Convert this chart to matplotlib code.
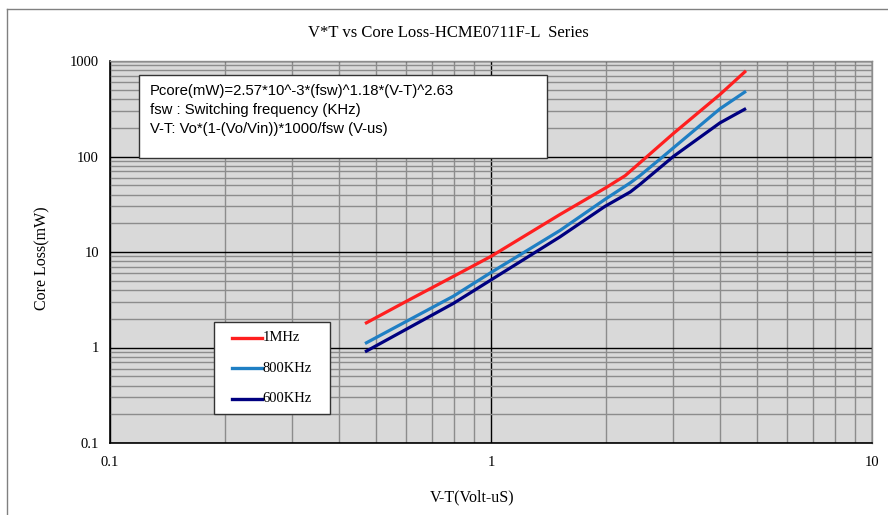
import matplotlib
matplotlib.use("Agg")
import matplotlib.pyplot as plt
from matplotlib.lines import Line2D
from matplotlib.patches import Rectangle

title = "V*T vs Core Loss-HCME0711F-L  Series"
x_label = "V-T(Volt-uS)"
y_label = "Core Loss(mW)"
series_names = ["1MHz", "800KHz", "600KHz"]
series_colors = ["#ff1f1f", "#1f7fc4", "#000080"]

x_1mhz = [0.467, 0.6, 0.8, 1.0, 1.517, 2.0, 2.25, 2.46, 3.01, 3.99, 4.67]
y_1mhz = [1.78, 3.05, 5.6, 9.0, 24.7, 47, 63, 86, 174, 446, 790]

x_800k = [0.467, 0.796, 1.0, 1.517, 1.99, 2.32, 2.46, 2.83, 3.01, 3.99, 4.67]
y_800k = [1.1, 3.44, 6.1, 16.8, 35.5, 53, 63, 100, 123, 316, 483]

x_600k = [0.467, 0.796, 1.0, 1.517, 1.99, 2.32, 2.46, 3.01, 3.99, 4.67]
y_600k = [0.90, 2.89, 5.1, 14.4, 30, 42.5, 51, 100, 225, 318]

x_ticks = [0.1, 1, 10]
x_tick_labels = ["0.1", "1", "10"]
y_ticks = [0.1, 1, 10, 100, 1000]
y_tick_labels = ["0.1", "1", "10", "100", "1000"]

formula_lines = [
    "Pcore(mW)=2.57*10^-3*(fsw)^1.18*(V-T)^2.63",
    "fsw : Switching frequency (KHz)",
    "V-T: Vo*(1-(Vo/Vin))*1000/fsw (V-us)",
]

serif = ["Liberation Serif", "DejaVu Serif"]

W, H = 888, 515
fig = plt.figure(figsize=(W / 100, H / 100), dpi=100)
fig.patch.set_facecolor("white")

def fx(px):
    return px / W

def fy(py):
    return 1 - py / H

# outer frame lines
fig.add_artist(Line2D([fx(7), fx(888)], [fy(9), fy(9)], color="#808080", lw=1.0))
fig.add_artist(Line2D([fx(7), fx(7)], [fy(9), fy(515)], color="#808080", lw=1.0))

ax = fig.add_axes([fx(110), fy(443), fx(872) - fx(110), fy(61) - fy(443)])
ax.set_facecolor("#d9d9d9")
ax.set_xscale("log")
ax.set_yscale("log")
ax.set_xlim(0.1, 10)
ax.set_ylim(0.1, 1000)

ax.grid(which="minor", color="#8c8c8c", lw=1.0)
ax.grid(which="major", color="#000000", lw=1.0)
ax.set_axisbelow(True)

for s in ["top", "right"]:
    ax.spines[s].set_color("#8c8c8c")
    ax.spines[s].set_linewidth(1.0)
for s in ["left", "bottom"]:
    ax.spines[s].set_color("#000000")
    ax.spines[s].set_linewidth(1.2)

ax.set_xticks(x_ticks)
ax.set_xticklabels(x_tick_labels, fontfamily=serif, fontsize=10.5)
ax.set_yticks(y_ticks)
ax.set_yticklabels(y_tick_labels, fontfamily=serif, fontsize=10.5)
ax.tick_params(which="both", length=0)
ax.tick_params(axis="x", pad=9)
ax.tick_params(axis="y", pad=8)

for xs, ys, c, n in zip([x_1mhz, x_800k, x_600k], [y_1mhz, y_800k, y_600k],
                        series_colors, series_names):
    ax.plot(xs, ys, color=c, lw=2.3, solid_capstyle="butt", solid_joinstyle="round", label=n)

# formula box
fig.add_artist(Rectangle((fx(139), fy(158)), fx(547) - fx(139), fy(75) - fy(158),
                         facecolor="white", edgecolor="#333333", lw=1.0, zorder=5))
for i, t in enumerate(formula_lines):
    fig.text(fx(150), fy(90.5 + i * 19.3), t, fontsize=10.7,
             family=["Liberation Sans", "DejaVu Sans"],
             va="center", ha="left", zorder=6)

# legend box
fig.add_artist(Rectangle((fx(214), fy(414)), fx(330) - fx(214), fy(322) - fy(414),
                         facecolor="white", edgecolor="#333333", lw=1.0, zorder=5))
for i, (n, c) in enumerate(zip(series_names, series_colors)):
    yy = fy(337.5 + i * 30.5)
    fig.add_artist(Line2D([fx(232), fx(262)], [yy, yy], color=c, lw=2.4, zorder=6))
    fig.text(fx(262.5), yy, n, fontsize=10.5, family=serif, va="center", ha="left", zorder=6)

fig.text(fx(448), fy(33), title, fontsize=12, family=serif, ha="center", va="center")
fig.text(fx(472), fy(497), x_label, fontsize=11.5, family=serif, ha="center", va="center")
fig.text(fx(42), fy(258), y_label, fontsize=11.5, family=serif, ha="center", va="center",
         rotation=90)

fig.savefig("out.png", dpi=100, facecolor="white")
